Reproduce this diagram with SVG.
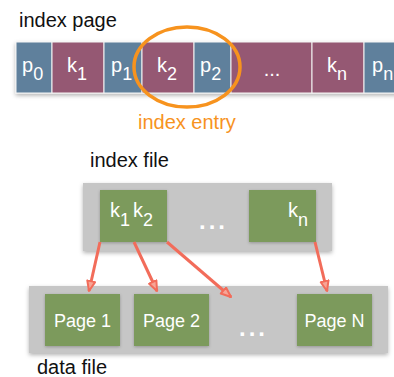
<svg xmlns="http://www.w3.org/2000/svg" width="394" height="377" viewBox="0 0 394 377">
  <style>
    .lbl { font-family: "Liberation Sans", Arial, sans-serif; font-size: 20px; fill: #111; }
    .ent { font-family: "Liberation Sans", Arial, sans-serif; font-size: 20px; fill: #f7931e; }
    .cp { fill: #5f809c; stroke: #f4f4f4; stroke-width: 1; }
    .ck { fill: #955873; stroke: #f4f4f4; stroke-width: 1; }
    .ct { font-family: "Liberation Sans", Arial, sans-serif; font-size: 20px; fill: #fff; }
    .cs { font-size: 18px; }
    .frame { fill: #c6c6c6; }
    .box { fill: #7b9a5c; }
    .bt { font-family: "Liberation Sans", Arial, sans-serif; font-size: 18px; fill: #fff; }
    .dots { font-family: "Liberation Sans", Arial, sans-serif; font-size: 24px; font-weight: bold; fill: #fff; letter-spacing: 3px; }
    .link { stroke: #f26c5a; stroke-width: 3; fill: none; marker-end: url(#tip); }
  </style>
  <defs>
    <filter id="shadow" x="-10%" y="-10%" width="120%" height="140%">
      <feDropShadow dx="0" dy="2" stdDeviation="2" flood-color="#000" flood-opacity="0.3"/>
    </filter>
    <filter id="soft" x="-10%" y="-10%" width="120%" height="130%">
      <feDropShadow dx="0" dy="1" stdDeviation="1.5" flood-color="#000" flood-opacity="0.25"/>
    </filter>
    <marker id="tip" markerUnits="userSpaceOnUse" markerWidth="14" markerHeight="12" refX="11" refY="5" orient="auto">
      <path d="M1,1 L11,5 L1,9 Z" fill="#f7a596" stroke="#f26c5a" stroke-width="2" stroke-linejoin="round"/>
    </marker>
  </defs>

  <!-- index page row -->
  <text class="lbl" x="19" y="27">index page</text>
  <g id="index-page" filter="url(#shadow)">
    <rect class="cp" x="16" y="42" width="36" height="51"/>
    <rect class="ck" x="52" y="42" width="52" height="51"/>
    <rect class="cp" x="104" y="42" width="38" height="51"/>
    <rect class="ck" x="142" y="42" width="52" height="51"/>
    <rect class="cp" x="194" y="42" width="37" height="51"/>
    <rect class="ck" x="231" y="42" width="81" height="51"/>
    <rect class="ck" x="312" y="42" width="52" height="51"/>
    <rect class="cp" x="364" y="42" width="40" height="51"/>
  </g>
  <g id="cell-labels">
    <text class="ct" x="22" y="72">p<tspan class="cs" dy="8">0</tspan></text>
    <text class="ct" x="67" y="72">k<tspan class="cs" dy="8">1</tspan></text>
    <text class="ct" x="111" y="72">p<tspan class="cs" dy="8">1</tspan></text>
    <text class="ct" x="157" y="72">k<tspan class="cs" dy="8">2</tspan></text>
    <text class="ct" x="200" y="72">p<tspan class="cs" dy="8">2</tspan></text>
    <text class="ct" x="272" y="76" text-anchor="middle" font-size="17">...</text>
    <text class="ct" x="327" y="72">k<tspan class="cs" dy="8">n</tspan></text>
    <text class="ct" x="372" y="72">p<tspan class="cs" dy="8">n</tspan></text>
  </g>
  <g id="index-entry">
    <ellipse cx="187" cy="67" rx="53" ry="40" fill="none" stroke="#f7931e" stroke-width="3.5"/>
    <text class="ent" x="138" y="129">index entry</text>
  </g>

  <!-- index file -->
  <text class="lbl" x="90" y="167">index file</text>
  <g id="index-file">
    <rect class="frame" x="83" y="183" width="249" height="68" filter="url(#shadow)"/>
    <text class="dots" x="199" y="229">...</text>
  </g>
  <g id="index-block-1">
    <rect class="box" x="100" y="190" width="67" height="52" filter="url(#soft)"/>
    <text class="ct" x="110" y="217">k<tspan class="cs" dy="9">1</tspan><tspan dx="3" dy="-9">k</tspan><tspan class="cs" dy="9">2</tspan></text>
  </g>
  <g id="index-block-n">
    <rect class="box" x="249" y="190" width="67" height="52" filter="url(#soft)"/>
    <text class="ct" x="288" y="217">k<tspan class="cs" dy="9">n</tspan></text>
  </g>

  <!-- data file -->
  <g id="data-file">
    <rect class="frame" x="29" y="286" width="359" height="67" filter="url(#shadow)"/>
    <text class="dots" x="239" y="336">...</text>
  </g>
  <g id="page-1">
    <rect class="box" x="45" y="294" width="75" height="52" filter="url(#soft)"/>
    <text class="bt" x="82.5" y="327" text-anchor="middle">Page 1</text>
  </g>
  <g id="page-2">
    <rect class="box" x="134" y="294" width="75" height="52" filter="url(#soft)"/>
    <text class="bt" x="171.5" y="327" text-anchor="middle">Page 2</text>
  </g>
  <g id="page-n">
    <rect class="box" x="297" y="294" width="75" height="52" filter="url(#soft)"/>
    <text class="bt" x="334.5" y="327" text-anchor="middle">Page N</text>
  </g>
  <text class="lbl" x="37" y="374">data file</text>

  <!-- pointers from index blocks to data pages -->
  <g id="connectors">
    <line class="link" x1="100" y1="242" x2="89" y2="291"/>
    <line class="link" x1="134" y1="242" x2="157" y2="291"/>
    <line class="link" x1="167" y1="242" x2="231" y2="297"/>
    <line class="link" x1="315" y1="242" x2="327" y2="291"/>
  </g>
</svg>
